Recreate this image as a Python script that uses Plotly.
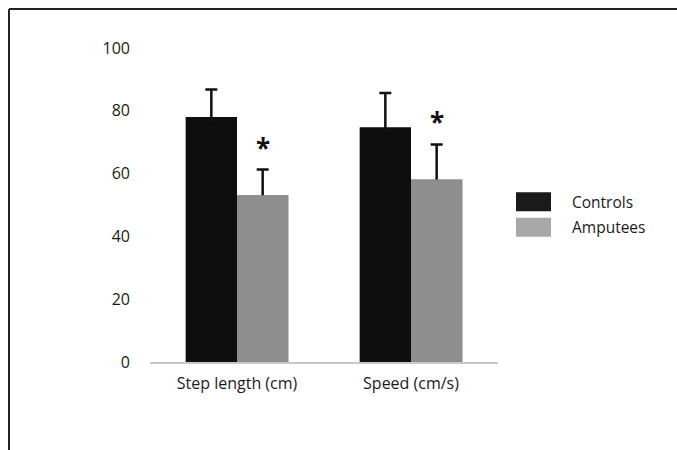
import plotly.graph_objects as go

categories = ["Step length (cm)", "Speed (cm/s)"]
controls = [78.0, 74.8]
controls_err = [8.8, 10.9]
amputees = [53.1, 58.1]
amputees_err = [8.2, 11.2]
star_y = [68.0, 76.3]
yticks = [0, 20, 40, 60, 80, 100]

FONT = "Open Sans"
C_CTRL = "#0e0e0e"
C_AMP = "#8e8e8e"

# plot area in pixels
L, R, T, B = 150, 498, 48, 362.5
W, H = 677, 450
def px(x):
    return (x - L) / (R - L)
def py(y):
    return (B - y) / (B - T)

err_style = dict(type="data", symmetric=False, color="#111111", thickness=2.5, width=6)

fig = go.Figure()
fig.add_trace(go.Bar(
    x=categories, y=controls, name="Controls", offsetgroup="c",
    marker=dict(color=C_CTRL, line=dict(width=0)),
    error_y=dict(array=controls_err, arrayminus=[1, 1], **err_style),
))
fig.add_trace(go.Bar(
    x=categories, y=amputees, name="Amputees", offsetgroup="a",
    marker=dict(color=C_AMP, line=dict(width=0)),
    error_y=dict(array=amputees_err, arrayminus=[1, 1], **err_style),
))
# same amputee bars again on top, hiding the lower end of the error bars
fig.add_trace(go.Bar(
    x=categories, y=amputees, name="Amputees", offsetgroup="a",
    marker=dict(color=C_AMP, line=dict(width=0)), hoverinfo="skip",
))

for c, sy in zip(categories, star_y):
    fig.add_annotation(x=c, y=sy, text="<b>*</b>", showarrow=False, xshift=26,
                       font=dict(family=FONT, size=26, color="#111111"),
                       yanchor="middle")

# frame
fig.add_shape(type="line", xref="paper", yref="paper",
              x0=px(9), x1=px(W + 5), y0=py(9), y1=py(9),
              line=dict(color="#222222", width=2))
fig.add_shape(type="line", xref="paper", yref="paper",
              x0=px(9), x1=px(9), y0=py(9), y1=py(H + 5),
              line=dict(color="#222222", width=2))

# legend
legend_items = [("Controls", "#1a1a1a", 202), ("Amputees", "#a8a8a8", 227.5)]
for name, col, cy in legend_items:
    fig.add_shape(type="rect", xref="paper", yref="paper",
                  x0=px(516), x1=px(551), y0=py(cy - 9.5), y1=py(cy + 9.5),
                  fillcolor=col, line=dict(width=0))
    fig.add_annotation(xref="paper", yref="paper", x=px(570), y=py(cy),
                       text=name, showarrow=False, xanchor="left", yanchor="middle",
                       font=dict(family=FONT, size=15.5, color="#1a1a1a"))

fig.update_layout(
    width=W, height=H,
    margin=dict(l=L, r=W - R, t=T, b=H - B, pad=0),
    paper_bgcolor="white", plot_bgcolor="white",
    barmode="group", bargap=0.41, bargroupgap=0,
    showlegend=False,
    font=dict(family=FONT, size=16, color="#1a1a1a"),
)
fig.update_xaxes(showline=True, linecolor="#c8c8c8", linewidth=2,
                 showgrid=False, ticks="", tickfont=dict(size=16),
                 ticklabelstandoff=6, range=[-0.5, 1.5])
fig.update_yaxes(range=[0, 100], tickvals=yticks, showgrid=False,
                 zeroline=False, showline=False, ticks="",
                 ticklabelstandoff=19, tickfont=dict(size=16))

fig.write_html("out.html", config={"displayModeBar": False},
               post_script="document.body.style.margin='0';document.body.style.overflow='hidden';")
